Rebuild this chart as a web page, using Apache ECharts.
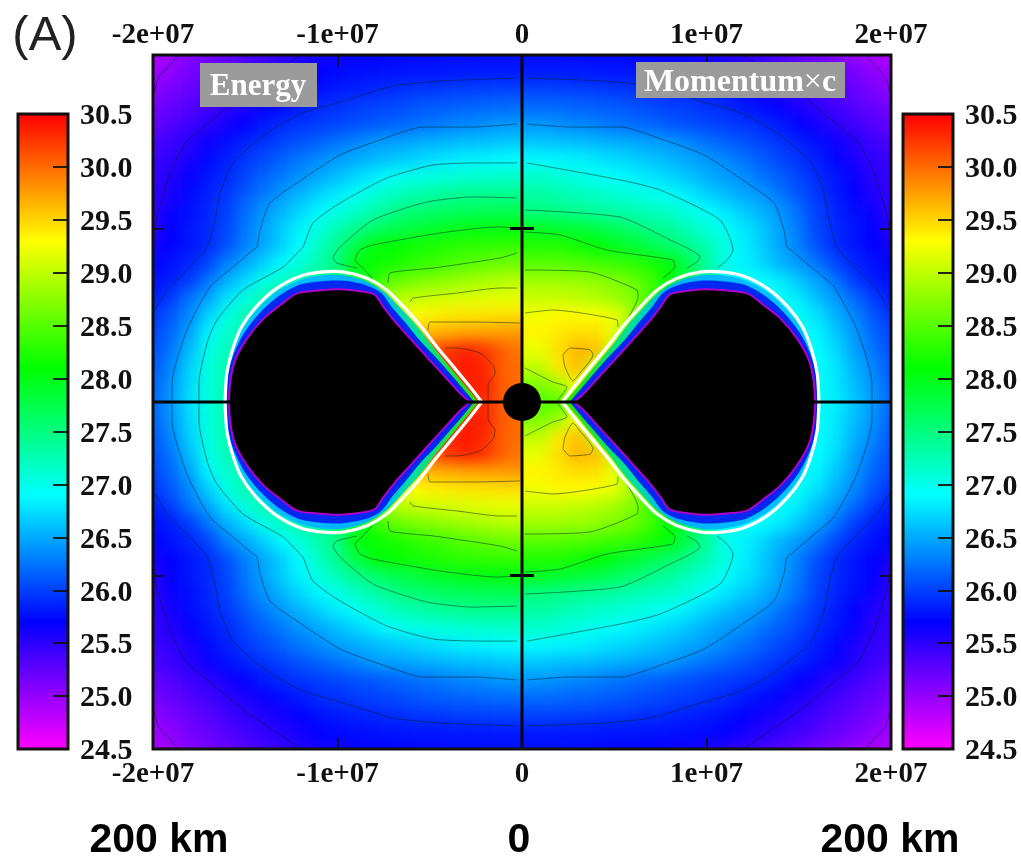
<!DOCTYPE html>
<html><head><meta charset="utf-8"><style>html,body{margin:0;padding:0;background:#fff}#c{width:1021px;height:856px}</style>
<script src="https://cdn.jsdelivr.net/npm/echarts@6/dist/echarts.min.js"></script></head><body><div id="c"></div>
<script>
// log10 values, one row per |y| = 20..0 (x 1e6), upper half; the picture mirrors about y = 0.
// Energy: x = -20..0 (x 1e6)
const energyRows = [
[24.9,24.98,25.08,25.15,25.23,25.31,25.4,25.47,25.55,25.61,25.65,25.68,25.7,25.72,25.73,25.74,25.75,25.75,25.75,25.75,25.75],
[24.95,25.03,25.15,25.23,25.31,25.4,25.47,25.53,25.62,25.7,25.74,25.76,25.78,25.79,25.8,25.8,25.81,25.81,25.82,25.82,25.82],
[25.03,25.14,25.22,25.3,25.4,25.49,25.56,25.62,25.7,25.78,25.82,25.85,25.88,25.91,25.94,25.96,25.98,26,26.01,26.02,26.02],
[25.15,25.23,25.31,25.41,25.5,25.58,25.67,25.75,25.82,25.9,25.93,25.98,26.01,26.05,26.09,26.13,26.15,26.17,26.2,26.21,26.22],
[25.23,25.31,25.41,25.5,25.6,25.7,25.82,25.9,25.94,25.99,26.03,26.08,26.12,26.17,26.21,26.25,26.3,26.34,26.38,26.42,26.44],
[25.35,25.43,25.54,25.65,25.76,25.86,25.93,26.01,26.09,26.16,26.24,26.32,26.42,26.45,26.49,26.53,26.56,26.59,26.61,26.63,26.65],
[25.43,25.48,25.58,25.74,25.84,25.95,26.05,26.16,26.26,26.36,26.44,26.51,26.57,26.64,26.69,26.74,26.8,26.84,26.86,26.88,26.9],
[25.45,25.54,25.68,25.8,25.9,26.03,26.16,26.28,26.39,26.49,26.6,26.71,26.82,26.94,27,27.04,27.08,27.1,27.13,27.14,27.15],
[25.47,25.6,25.74,25.85,25.95,26.12,26.27,26.42,26.55,26.69,26.82,26.95,27.07,27.18,27.27,27.34,27.39,27.42,27.42,27.43,27.43],
[25.48,25.66,25.76,25.88,26,26.22,26.4,26.55,26.72,26.87,27.02,27.16,27.3,27.45,27.55,27.6,27.65,27.68,27.7,27.71,27.72],
[25.5,25.7,25.8,25.9,26.03,26.27,26.46,26.67,26.86,27.06,27.25,27.45,27.6,27.72,27.8,27.88,27.95,28,28.03,28.04,28.05],
[25.61,25.7,25.8,25.9,26.08,26.3,26.49,26.69,26.91,27.18,27.45,27.77,28.05,28.1,28.17,28.22,28.27,28.31,28.33,28.34,28.35],
[25.7,25.78,25.87,26.03,26.3,26.49,26.69,26.89,27.09,27.3,27.5,28.05,28.12,28.2,28.27,28.35,28.42,28.5,28.55,28.6,28.62],
[25.76,25.84,25.99,26.25,26.53,26.73,27,27.18,27.3,27.4,27.5,27.8,28.3,28.55,28.65,28.72,28.78,28.85,28.9,28.95,28.98],
[25.82,25.99,26.25,26.47,26.77,27.04,27.27,27.35,27.4,27.5,27.6,28,28.6,28.95,29.02,29.07,29.1,29.13,29.16,29.18,29.2],
[25.94,26.12,26.35,26.69,27.02,27.27,27.3,27.35,27.4,27.5,27.7,28.2,28.6,29,29.3,29.36,29.4,29.42,29.43,29.44,29.45],
[26.02,26.2,26.47,26.86,27.14,27.25,27.3,27.35,27.4,27.6,27.9,28.4,28.9,29.3,29.6,29.65,29.7,29.73,29.75,29.77,29.78],
[26.06,26.26,26.6,27,27.24,27.3,27.3,27.35,27.4,27.7,28.1,28.6,29.1,29.5,29.8,30.1,30.25,30.35,30.25,30.05,29.92],
[26.1,26.34,26.69,27.04,27.27,27.3,27.3,27.35,27.4,27.8,28.2,28.7,29.2,29.6,29.9,30.1,30.3,30.4,30.3,30.05,29.97],
[26.15,26.4,26.73,27.05,27.3,27.3,27.3,27.35,27.4,27.8,28.2,28.7,29.2,29.7,29.9,30.05,30.2,30.35,30.35,30.05,29.97],
[26.18,26.42,26.76,27.04,27.3,27.3,27.3,27.35,27.4,27.8,28.2,28.7,29.2,29.6,29.8,30,30.2,30.3,30.3,30.05,29.97]
];
// Momentum x c: x = 1..20 (x 1e6)
const momentumRows = [
[25.75,25.75,25.75,25.74,25.73,25.72,25.7,25.66,25.64,25.6,25.52,25.47,25.4,25.31,25.23,25.15,25.08,24.98,24.93,24.88],
[25.82,25.82,25.81,25.81,25.8,25.8,25.79,25.78,25.76,25.74,25.7,25.62,25.53,25.47,25.4,25.31,25.23,25.15,25.03,24.95],
[26.02,26.01,26,25.98,25.96,25.94,25.91,25.88,25.85,25.82,25.78,25.7,25.62,25.56,25.49,25.4,25.3,25.22,25.14,25.03],
[26.21,26.2,26.17,26.15,26.13,26.09,26.05,26.01,25.98,25.93,25.9,25.82,25.75,25.67,25.58,25.5,25.41,25.31,25.23,25.15],
[26.42,26.38,26.34,26.3,26.25,26.21,26.17,26.12,26.08,26.03,25.99,25.94,25.9,25.82,25.7,25.6,25.5,25.41,25.31,25.23],
[26.63,26.61,26.59,26.56,26.53,26.49,26.45,26.42,26.32,26.24,26.16,26.09,26.01,25.93,25.86,25.76,25.65,25.54,25.43,25.35],
[26.88,26.86,26.84,26.79,26.73,26.69,26.62,26.56,26.49,26.42,26.34,26.24,26.14,26.03,25.93,25.84,25.72,25.58,25.48,25.43],
[27.14,27.09,27.02,26.97,26.91,26.85,26.79,26.71,26.62,26.53,26.44,26.38,26.25,26.14,26.03,25.9,25.8,25.66,25.51,25.45],
[27.34,27.27,27.22,27.16,27.11,27.04,27,26.93,26.82,26.69,26.59,26.48,26.41,26.25,26.1,25.95,25.82,25.7,25.55,25.47],
[27.5,27.47,27.42,27.37,27.32,27.27,27.2,27.15,27.04,26.91,26.79,26.67,26.54,26.4,26.22,26,25.87,25.76,25.65,25.48],
[27.95,27.9,27.85,27.78,27.68,27.58,27.47,27.37,27.23,27.09,26.94,26.79,26.65,26.46,26.27,26.03,25.9,25.8,25.7,25.5],
[28.25,28.25,28.18,28.1,27.98,27.87,27.75,27.62,27.45,27.27,27.04,26.84,26.67,26.48,26.3,26.08,25.9,25.8,25.7,25.61],
[28.5,28.5,28.47,28.42,28.37,28.3,28.2,28.05,27.75,27.4,27,26.85,26.72,26.55,26.42,26.25,26.03,25.87,25.78,25.7],
[28.85,28.85,28.82,28.77,28.7,28.6,28.4,28.1,27.7,27.3,27,26.98,26.9,26.81,26.64,26.47,26.25,25.99,25.84,25.76],
[29.05,29.05,29,28.95,28.85,28.7,28.4,28,27.6,27.2,27,26.98,26.95,26.93,26.81,26.6,26.42,26.2,25.99,25.82],
[29.25,29.33,29.32,29.27,29.2,28.9,28,27.6,27.3,27,26.97,26.95,26.95,26.95,26.95,26.77,26.55,26.34,26.12,25.94],
[29.35,29.4,29.45,29.45,29.2,28.5,27.8,27.4,27.1,26.97,26.95,26.95,26.95,26.95,26.95,26.86,26.64,26.42,26.2,26.02],
[29.2,29.45,29.65,29.6,29,28,27.4,27.1,27,26.97,26.95,26.95,26.95,26.95,26.95,26.9,26.74,26.47,26.26,26.06],
[29,29.4,29.6,29,28.3,27.6,27.2,27,26.97,26.95,26.95,26.95,26.95,26.95,26.95,26.9,26.78,26.55,26.34,26.1],
[28.7,28.85,29.3,28.5,27.8,27.3,27.05,26.97,26.95,26.95,26.95,26.95,26.95,26.95,26.95,26.95,26.8,26.6,26.4,26.15],
[28.45,28.5,28.8,28,27.5,27.2,27,26.97,26.95,26.95,26.95,26.95,26.95,26.95,26.95,26.95,26.82,26.64,26.42,26.18]
];
// Contour lines, [x, y] in units of 1e6, upper half
const contourCorner = [[-18.65,20],[-19.08,19.42],[-19.62,18.85],[-19.84,18.27],[-19.95,17.7]];
const contourOuter = [
 [[-12,20],[-15.07,17.75],[-17.24,15.85],[-18.2,15],[-19.08,13.2],[-19.5,11.8],[-19.8,10.66],[-19.95,9.6]],
 [[-0.3,18.67],[-4.44,18.5],[-6.99,18.21],[-9.86,17.29],[-11.87,16.66],[-13.82,15.5],[-15.66,13.78],[-16.37,12.05],[-16.64,10.49],[-17.07,8.93],[-18.16,7.61],[-19.24,6.46],[-19.89,5.3]],
 [[-0.27,16.02],[-2.66,15.85],[-5.37,15.85],[-7.7,15.1],[-9.86,14.24],[-12.2,12.62],[-13.66,11.47],[-14.2,9.91],[-14.36,8.93],[-14.58,8.76],[-15.66,7.78],[-16.91,6.63],[-18.16,4.15],[-18.97,1.1],[-18.97,0]]
];
const contourEnergy = [
 [[-0.27,13.78],[-2.28,13.78],[-4.82,13.66],[-7.32,12.91],[-9.86,11.47],[-11.33,10.32],[-11.87,8.93],[-12.03,8.76],[-12.95,7.78],[-15.12,6.46],[-16.53,4.73],[-17.02,3.57],[-17.51,1.1],[-17.51,0]],
 [[-0.27,11.76],[-2.66,11.82],[-5.15,11.53],[-8.08,10.49],[-9.86,8.93],[-10.24,8.3],[-10.03,8.01],[-8.94,7.72]],
 [[-0.27,10.03],[-1.36,10.09],[-4.44,9.74],[-8.08,9.05],[-8.78,8.76],[-9.05,8.18],[-8.62,7.72],[-8.13,7.15]],
 [[-0.27,8.59],[-1.19,8.3],[-4.82,7.72],[-7.15,7.44],[-7.26,6.86]],
 [[-0.27,6.57],[-1.19,6.57],[-3.52,6.28],[-5.91,5.99],[-6.07,5.76]],
 [[-0.11,4.55],[-2.66,4.61],[-4.99,4.61],[-5.09,4.15]],
 [[-4.17,3.11],[-3.52,3.11],[-2.28,2.82],[-1.57,2.13],[-1.46,1.67],[-1.84,0.98],[-1.84,0]]
];
const contourMomentum = [
 [[0.27,13.78],[5.31,12.8],[7.48,12.22],[10.73,10.49],[11.44,8.76],[11.11,8.18],[10.57,7.72]],
 [[0.16,11.07],[5.31,10.66],[8.02,9.34],[9.65,8.36],[9.49,8.07],[8.94,7.72]],
 [[0.16,9.8],[2.06,9.63],[4.61,8.76],[8.18,8.18],[8.29,7.78],[7.64,7.15]],
 [[0.16,7.61],[3.69,7.49],[6.23,6.46],[6.29,6.05],[5.69,4.73]],
 [[0.16,5.13],[1.68,5.3],[5.15,4.73],[5.2,4.32]],
 [[2.22,2.71],[2.6,3.11],[3.69,3],[3.85,2.71],[3.14,1.67],[2.76,1.21],[2.33,2.02],[2.22,2.71]],
 [[0.16,1.96],[1.68,1.15],[2.44,0.86],[1.95,0.12]]
];
// Shock and cavity outlines of the Energy-side lobe, upper half, units of 1e6
const shockEdge = [[-16.1,0],[-16,1.65],[-15.7,3],[-15.2,4.34],[-14.4,5.5],[-13.3,6.55],[-12,7.26],[-10.8,7.5],[-9.7,7.5],[-8.4,7.13],[-7.33,6.46],[-6.43,5.5],[-5.53,4.44],[-4.62,3.19],[-3.72,2.04],[-2.82,0.88],[-2.18,0]];
const outerBand = [[-16.05,0],[-15.97,1.6],[-15.65,2.95],[-15.12,4.25],[-14.3,5.4],[-13.25,6.4],[-12,7.05],[-10.8,7.3],[-9.7,7.3],[-8.45,6.95],[-7.42,6.3],[-6.58,5.4],[-5.7,4.4],[-4.8,3.15],[-3.9,2],[-3,0.85],[-2.35,0]];
const innerBand = [[-16,0],[-15.95,1.5],[-15.65,2.7],[-15.05,4],[-14.2,5.15],[-13.2,6.1],[-12.1,6.75],[-11,6.95],[-9.8,7],[-8.5,6.75],[-7.65,6.3],[-7,5.4],[-6.3,4.55],[-5.5,3.5],[-4.6,2.5],[-3.7,1.4],[-2.9,0.4],[-2.6,0]];
const cavityEdge = [[-15.9,0],[-15.8,1.27],[-15.55,2.42],[-14.9,3.67],[-14,4.82],[-13.1,5.59],[-12.2,6.26],[-11.1,6.42],[-9.86,6.5],[-8.6,6.36],[-7.97,6.17],[-7.52,5.5],[-6.88,4.63],[-6.07,3.67],[-5.17,2.61],[-4.27,1.56],[-3.36,0.5],[-2.82,0]];
const centreBody = [[0,0]];
const xTicks = {'-20000000':'-2e+07','-10000000':'-1e+07','0':'0','10000000':'1e+07','20000000':'2e+07'};
const colorTicks = [24.5,25,25.5,26,26.5,27,27.5,28,28.5,29,29.5,30,30.5];
const palette = ['#ff00ff','#0000ff','#00ffff','#00ff00','#ffff00','#ff0000'];
const UNIT = 1e6, SPAN = 2e7;

const serif = 'Liberation Serif', sans = 'Liberation Sans', TOP = 2;
const PAD = 22, cats = []; for (let i=-PAD;i<=PAD;i++) cats.push(i);
const cl = (v,a,b)=>Math.max(a,Math.min(b,v));
const energyData = [], momentumData = [];
for (const y of cats) for (const x of cats) {
  const j = 20-Math.min(20,Math.abs(y));
  if (x<=2) energyData.push([x+PAD,y+PAD,energyRows[j][cl(x,-20,0)+20]]);
  if (x>=-2) momentumData.push([x+PAD,y+PAD,momentumRows[j][cl(x,1,20)-1]]);
}
const P = c=>[c[0]*UNIT,c[1]*UNIT];
const brk = ['-','-'];
function lines(list){const o=[];for(const c of list){c.forEach(p=>o.push(P(p)));o.push(brk);}return o;}
const flipY = c=>c.map(p=>[p[0],-p[1]]), flipX = c=>c.map(p=>[-p[0],p[1]]);
const withLower = l=>l.concat(l.map(flipY));
const contourSet = withLower([
  contourCorner, flipX(contourCorner),
  ...contourOuter, ...contourOuter.map(flipX),
  ...contourEnergy, ...contourMomentum
]);
const lobe = h=>h.concat(flipY(h).reverse());
const gradL = new echarts.graphic.LinearGradient(0,0,1,0,[{offset:0,color:'#00c8ff'},{offset:.58,color:'#00b0ff'},{offset:.74,color:'#00e0a0'},{offset:1,color:'#30e000'}]);
const gradR = new echarts.graphic.LinearGradient(1,0,0,0,[{offset:0,color:'#00c8ff'},{offset:.58,color:'#00b0ff'},{offset:.74,color:'#00e0a0'},{offset:1,color:'#30e000'}]);
const layers = [
 {pts:lobe(outerBand),fill:[gradL,gradR]},
 {pts:lobe(innerBand),fill:['#0028f0','#0028f0']},
 {pts:lobe(cavityEdge),fill:['#000','#000'],stroke:'#b000d0',lw:2},
 {pts:lobe(shockEdge),fill:['none','none'],stroke:'#fff',lw:3.2}
];
const heat = (name,data,z)=>({name,type:'heatmap',data,xAxisIndex:0,yAxisIndex:0,zlevel:z,silent:true,progressive:0,animation:false,itemStyle:{borderWidth:0}});
const hiddenCat = {type:'category',data:cats,show:false,gridIndex:0};
const frame = {show:true,borderColor:'#111',borderWidth:3,backgroundColor:'transparent',zlevel:TOP,z:6};
const tickStyle = {show:true,inside:true,length:11,lineStyle:{color:'#111',width:1.6}};
const lbl = {fontFamily:serif,fontWeight:'bold',fontSize:29,color:'#111'};
const cbAxis = (g,pos)=>({type:'value',gridIndex:g,position:pos,min:24.5,max:30.5,interval:.5,zlevel:TOP,z:7,
  axisLine:{show:false,onZero:false},axisTick:{show:true,inside:true,length:15,lineStyle:{color:'#111',width:1.8}},splitLine:{show:false},
  axisLabel:{...lbl,fontSize:30,margin:12,verticalAlign:'top',padding:[-12.5,0,0,0],showMinLabel:true,showMaxLabel:true,hideOverlap:false,formatter:v=>colorTicks.includes(+v)?(+v).toFixed(1):''}});
const mainX = pos=>({type:'value',gridIndex:1,position:pos,min:-SPAN,max:SPAN,interval:1e7,zlevel:TOP,z:7,axisLine:{show:false,onZero:false},axisTick:{...tickStyle},splitLine:{show:false},
  axisLabel:{...lbl,margin:pos==='top'?5:11,hideOverlap:false,showMinLabel:true,showMaxLabel:true,formatter:v=>xTicks[String(v)]}});
const mainY = pos=>({type:'value',gridIndex:1,position:pos,min:-SPAN,max:SPAN,interval:1e7,zlevel:TOP,z:7,axisLine:{show:false,onZero:false},axisTick:{...tickStyle},splitLine:{show:false},axisLabel:{show:false}});
const hiddenX = g=>({type:'value',gridIndex:g,min:0,max:1,show:false});
const vm = (si,left)=>({type:'continuous',seriesIndex:si,min:24.5,max:30.5,calculable:false,left:left-15,top:99,itemWidth:50,itemHeight:635,text:null,showLabel:false,inRange:{color:palette},zlevel:TOP,z:3,hoverLink:false,realtime:false,align:'left',orient:'vertical'});
const box = (l,t,w,h)=>({type:'rect',zlevel:TOP,z:20,silent:true,shape:{x:l,y:t,width:w,height:h},style:{fill:'#9b9b9b'}});
const txt = (x,y,text,size,family,weight,fill,extra)=>({type:'text',zlevel:TOP,z:21,silent:true,x,y,style:Object.assign({text,fontSize:size,fontFamily:family,fontWeight:weight,fill,align:'center',verticalAlign:'middle'},extra||{})});

const chart = echarts.init(document.getElementById('c'),null,{renderer:'canvas'});
chart.setOption({
 animation:false,backgroundColor:'transparent',
 grid:[
  {left:106.875,top:11.625,width:45*18.45,height:45*17.35,show:false},
  {left:153,top:55,width:738,height:694,...frame},
  {left:18,top:114,width:50,height:635,...frame},
  {left:903,top:114,width:50,height:635,...frame}
 ],
 xAxis:[hiddenCat,mainX('top'),mainX('bottom'),hiddenX(2),hiddenX(3)],
 yAxis:[{...hiddenCat},mainY('left'),mainY('right'),cbAxis(2,'right'),cbAxis(3,'right')],
 visualMap:[vm(0,18),vm(1,903)],
 series:[
  heat('Energy',energyData,0),
  heat('Momentum×c',momentumData,1),
  {type:'line',name:'contours',xAxisIndex:1,yAxisIndex:1,zlevel:TOP,z:2,silent:true,symbol:'none',smooth:.2,connectNulls:false,data:lines(contourSet),lineStyle:{color:'rgba(0,30,30,.62)',width:.8}},
  {type:'custom',name:'lobes',xAxisIndex:1,yAxisIndex:1,zlevel:TOP,z:3,silent:true,clip:false,
   data:layers.map((_,i)=>[i,0]),encode:{x:0,y:1},
   renderItem(p,api){
    const L=layers[p.dataIndex];
    const mk=(pts,fill,s)=>({type:'polygon',shape:{points:pts.map(c=>api.coord(P([s*c[0],c[1]]))),smooth:.3},style:{fill:fill,stroke:L.stroke||null,lineWidth:L.lw||0,lineJoin:'round'}});
    return {type:'group',children:[mk(L.pts,L.fill[0],1),mk(L.pts,L.fill[1],-1)]};
   }},
  {type:'line',name:'cross',xAxisIndex:1,yAxisIndex:1,zlevel:TOP,z:4,silent:true,symbol:'none',connectNulls:false,
   data:[[-SPAN,0],[SPAN,0],brk,[0,-SPAN],[0,SPAN],brk,[-.65*UNIT,1e7],[.65*UNIT,1e7],brk,[-.65*UNIT,-1e7],[.65*UNIT,-1e7]],lineStyle:{color:'#000',width:3}},
  {type:'scatter',name:'centre',xAxisIndex:1,yAxisIndex:1,zlevel:TOP,z:5,silent:true,symbol:'circle',symbolSize:38,data:centreBody,itemStyle:{color:'#000',opacity:1}}
 ],
 graphic:{elements:[
  box(200,63,117,44),box(636,62,209,36),
  txt(258,87,'Energy',31,serif,'bold','#fff'),
  {type:'text',zlevel:TOP,z:21,silent:true,x:740,y:83,style:{text:'{a|Momentum}{b|×}{a|c}',align:'center',verticalAlign:'middle',rich:{a:{fontFamily:serif,fontWeight:'bold',fontSize:32,fill:'#fff',color:'#fff'},b:{fontFamily:serif,fontSize:32,fill:'#fff',color:'#fff'}}}},
  txt(45,36,'(A)',49,sans,'normal','#222'),
  txt(159,841,'200 km',41,sans,'bold','#000'),
  txt(519,841,'0',41,sans,'bold','#000'),
  txt(890,841,'200 km',41,sans,'bold','#000')
 ]}
});
const canv = document.querySelectorAll('#c canvas');
const clip = ['inset(55px 499px 107px 153px)','inset(55px 130px 107px 522px)'];
[0,1].forEach(i=>{ if(canv[i]){canv[i].style.filter='blur(7px)';canv[i].style.clipPath=clip[i];} });
</script></body></html>
